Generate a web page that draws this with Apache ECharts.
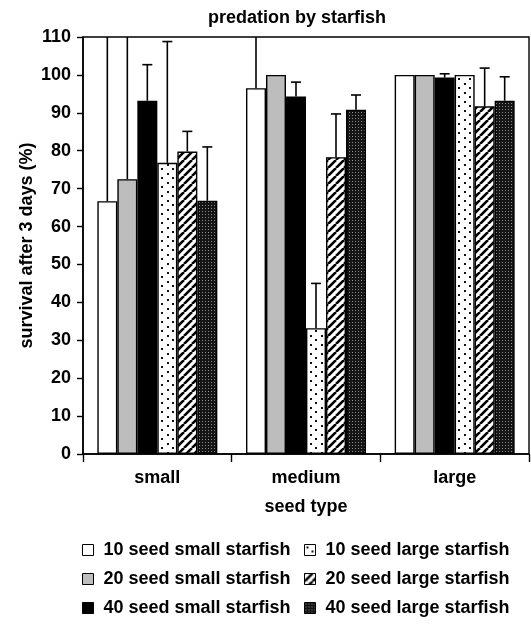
<!DOCTYPE html>
<html>
<head>
<meta charset="utf-8">
<script src="https://cdn.jsdelivr.net/npm/echarts@6/dist/echarts.min.js"></script>
<style>
  html, body { margin: 0; padding: 0; background: #fff; }
  #chart { width: 531px; height: 632px; }
</style>
</head>
<body>
<div id="chart"></div>
<script>
// Seed survival after 3 days, by seed type and starfish treatment
const categories = ['small', 'medium', 'large'];
const seriesNames = [
  '10 seed small starfish',
  '20 seed small starfish',
  '40 seed small starfish',
  '10 seed large starfish',
  '20 seed large starfish',
  '40 seed large starfish'
];
const yTicks = [0, 10, 20, 30, 40, 50, 60, 70, 80, 90, 100, 110];

// mean survival (%) per seed type
const seed10Small = [66.7, 96.5, 100];
const seed20Small = [72.5, 100, 100];
const seed40Small = [93.2, 94.3, 99.3];
const seed10Large = [76.8, 33.2, 100];
const seed20Large = [79.8, 78.3, 91.7];
const seed40Large = [66.8, 90.8, 93.2];

// upper error (+SE) per seed type
const err10Small = [68, 24, 0];
const err20Small = [58, 0, 0];
const err40Small = [9.5, 3.8, 1.0];
const err10Large = [32.0, 11.8, 0];
const err20Large = [5.3, 11.4, 10.1];
const err40Large = [14.2, 3.9, 6.3];

const means = [seed10Small, seed20Small, seed40Small, seed10Large, seed20Large, seed40Large];
const errors = [err10Small, err20Small, err40Small, err10Large, err20Large, err40Large];

const FONT = '"Liberation Sans", Arial, Helvetica, sans-serif';
const FS = 18;
const BAR_W = 20;

// fill patterns
function makeTile(w, h, draw) {
  const c = document.createElement('canvas');
  c.width = w; c.height = h;
  const ctx = c.getContext('2d');
  draw(ctx, w, h);
  return { image: c, repeat: 'repeat' };
}
const dotted = makeTile(11, 9, (ctx, w, h) => {
  ctx.fillStyle = '#fff'; ctx.fillRect(0, 0, w, h);
  ctx.fillStyle = '#111';
  ctx.fillRect(2, 2, 2, 2);
  ctx.fillRect(7, 6, 2, 2);
});
const hatched = makeTile(8, 8, (ctx, w, h) => {
  ctx.fillStyle = '#fff'; ctx.fillRect(0, 0, w, h);
  ctx.strokeStyle = '#000'; ctx.lineWidth = 2.6;
  for (const o of [-w, 0, w]) {
    ctx.beginPath();
    ctx.moveTo(o, h);
    ctx.lineTo(o + w, 0);
    ctx.stroke();
  }
});
const checker = makeTile(3, 3, (ctx, w, h) => {
  ctx.fillStyle = '#151515'; ctx.fillRect(0, 0, w, h);
  ctx.fillStyle = '#8a8a8a'; ctx.fillRect(1, 1, 1, 1);
});
const fills = ['#ffffff', '#bdbdbd', '#000000', dotted, hatched, checker];

const barSeries = seriesNames.map((name, i) => ({
  name: name,
  type: 'bar',
  barWidth: BAR_W,
  barGap: '0%',
  data: means[i],
  itemStyle: { color: fills[i], borderColor: '#000', borderWidth: 1.4 },
  z: 2
}));

// error bar items: [category index, series index, mean, upper]
const errData = [];
means.forEach((arr, s) => {
  arr.forEach((v, c) => {
    if (errors[s][c] > 0) errData.push([c, s, v, v + errors[s][c]]);
  });
});

const errSeries = {
  type: 'custom',
  name: 'se',
  clip: true,
  z: 3,
  encode: { x: 0, y: 2 },
  data: errData,
  renderItem: function (params, api) {
    const cat = api.value(0);
    const s = api.value(1);
    const base = api.coord([cat, api.value(2)]);
    const top = api.coord([cat, api.value(3)]);
    const x = base[0] + (s - 2.5) * BAR_W;
    const half = 5;
    return {
      type: 'group',
      children: [
        { type: 'line', shape: { x1: x, y1: base[1], x2: x, y2: top[1] },
          style: { stroke: '#000', lineWidth: 1.6 } },
        { type: 'line', shape: { x1: x - half, y1: top[1], x2: x + half, y2: top[1] },
          style: { stroke: '#000', lineWidth: 1.6 } }
      ]
    };
  }
};

const boldText = { fontFamily: FONT, fontWeight: 'bold', fontSize: FS, color: '#000' };
const legendCommon = {
  orient: 'vertical',
  top: 541,
  padding: 0,
  icon: 'rect',
  itemWidth: 11,
  itemHeight: 11,
  itemGap: 11,
  textStyle: Object.assign({}, boldText, { padding: [0, 0, 0, 5] }),
  itemStyle: { borderColor: '#000', borderWidth: 1 },
  selectedMode: false
};

const chart = echarts.init(document.getElementById('chart'), null, { renderer: 'canvas' });
chart.setOption({
  animation: false,
  backgroundColor: '#fff',
  title: {
    text: 'predation by starfish',
    left: 292,
    textAlign: 'center',
    top: 4,
    textStyle: boldText
  },
  legend: [
    Object.assign({}, legendCommon, { left: 82, data: [seriesNames[0], seriesNames[1], seriesNames[2]] }),
    Object.assign({}, legendCommon, { left: 304, data: [seriesNames[3], seriesNames[4], seriesNames[5]] })
  ],
  grid: {
    left: 83, right: 2, top: 37, bottom: 178,
    show: true, borderColor: '#000', borderWidth: 1.4, backgroundColor: 'transparent'
  },
  xAxis: {
    type: 'category',
    data: categories,
    name: 'seed type',
    nameLocation: 'middle',
    nameGap: 44,
    nameMoveOverlap: false,
    nameTextStyle: boldText,
    axisLine: { lineStyle: { color: '#000', width: 1.6 } },
    axisTick: { show: true, length: 8, lineStyle: { color: '#000', width: 1.4 } },
    axisLabel: Object.assign({ margin: 15 }, boldText),
    splitLine: { show: false }
  },
  yAxis: {
    type: 'value',
    min: yTicks[0],
    max: yTicks[yTicks.length - 1],
    interval: yTicks[1] - yTicks[0],
    name: 'survival after 3 days (%)',
    nameLocation: 'middle',
    nameRotate: 90,
    nameGap: 47,
    nameMoveOverlap: false,
    nameTextStyle: boldText,
    axisLine: { show: true, lineStyle: { color: '#000', width: 1.6 } },
    axisTick: { show: true, length: 6, lineStyle: { color: '#000', width: 1.4 } },
    axisLabel: Object.assign({ margin: 12 }, boldText),
    splitLine: { show: false }
  },
  series: barSeries.concat([errSeries])
});
</script>
</body>
</html>
